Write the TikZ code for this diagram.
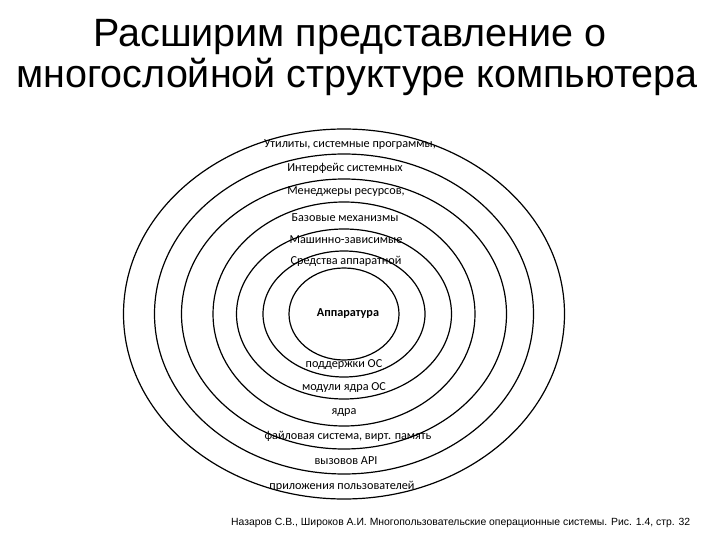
\documentclass[tikz,border=0pt]{standalone}
\usepackage{fontspec}
\setmainfont{Liberation Sans}
\newfontfamily\lab{Carlito}
\begin{document}
\begin{tikzpicture}[x=1pt,y=-1pt,
  ring/.style={draw=black,line width=1.2pt},
  lbl/.style={font=\lab\fontsize{12.2}{14}\selectfont,inner sep=1pt},
  ttl/.style={font=\fontsize{39.5}{46}\selectfont,inner sep=0pt}]
\useasboundingbox (0,0) rectangle (720,540);
\foreach \rx/\ry [count=\i] in {55/46,81/63,107.5/85,131/112,162.5/135,189.5/160,220.5/185}
  \draw[ring] (344,314) ellipse [x radius=\rx, y radius=\ry];
\node[ttl] (t1) at (350,37) {Расширим представление о};
\node[ttl] (t2) at (357,77) {многослойной структуре компьютера};
\node[lbl] (a1) at (350,145) {Утилиты, системные программы,};
\node[lbl] (a2) at (345,168) {Интерфейс системных};
\node[lbl] (a3) at (346,192) {Менеджеры ресурсов,};
\node[lbl] (a4) at (345,218) {Базовые механизмы};
\node[lbl] (a5) at (346,240) {Машинно-зависимые};
\node[lbl] (a6) at (346,261) {Средства аппаратной};
\node[font=\lab\bfseries\fontsize{12.2}{14}\selectfont] (hw) at (348,314) {Аппаратура};
\node[lbl] (b1) at (344,365) {поддержки ОС};
\node[lbl] (b2) at (344,388) {модули ядра ОС};
\node[lbl] (b3) at (344,413) {ядра};
\node[lbl] (b4) at (348,436) {файловая система, вирт. память};
\node[lbl] (b5) at (346,461) {вызовов API};
\node[lbl] (b6) at (342,486) {приложения пользователей};
\node[font=\fontsize{10.4}{12}\selectfont,anchor=west,inner sep=0pt] (src) at (231,523) {Назаров С.В., Широков А.И. Многопользовательские операционные системы. Рис. 1.4, стр. 32};
\end{tikzpicture}
\end{document}
